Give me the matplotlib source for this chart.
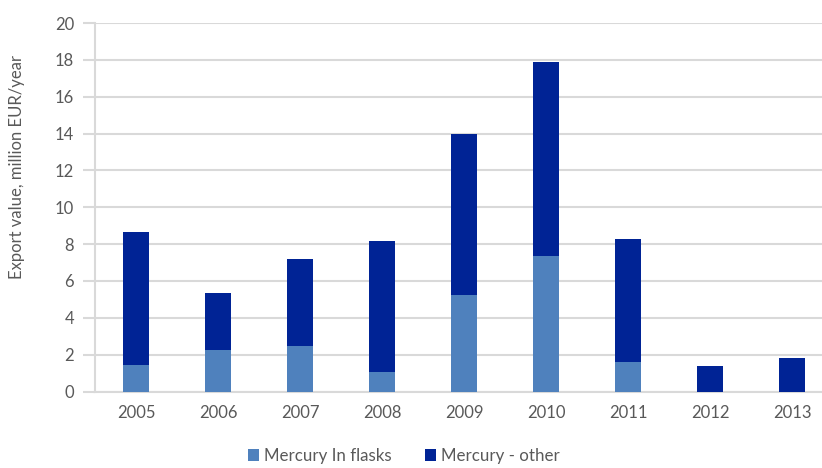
import matplotlib.pyplot as plt
import numpy as np

# --- data (million EUR/year) ---
years = ["2005", "2006", "2007", "2008", "2009", "2010", "2011", "2012", "2013"]
flasks = [1.45, 2.25, 2.47, 1.06, 5.24, 7.34, 1.60, 0.0, 0.0]
other_total = [8.64, 5.33, 7.18, 8.15, 14.0, 17.89, 8.28, 1.37, 1.84]
other = [t - f for t, f in zip(other_total, flasks)]

LIGHT = "#4F81BD"
DARK = "#002395"
GRID = "#D9D9D9"
TEXT = "#595959"

plt.rcParams["font.family"] = ["Lato", "DejaVu Sans"]

fig = plt.figure(figsize=(8.22, 4.68), dpi=100)
ax = fig.add_axes([95 / 822, 1 - 391.5 / 468, 738 / 822, (391.5 - 23) / 468])

x = np.arange(len(years))
ax.bar(x, flasks, width=0.31, color=LIGHT, label="Mercury In flasks", zorder=3)
ax.bar(x, other, width=0.31, bottom=flasks, color=DARK, label="Mercury - other", zorder=3)

ax.set_xlim(-0.5, len(years) - 0.5)
ax.set_ylim(0, 20)
ax.set_yticks(range(0, 21, 2))
ax.set_xticks(x)
ax.set_xticklabels(years)

ax.grid(axis="y", color=GRID, linewidth=1.5, zorder=0)
for side in ["top", "right"]:
    ax.spines[side].set_visible(False)
for side in ["left", "bottom"]:
    ax.spines[side].set_color(GRID)
    ax.spines[side].set_linewidth(1.5)

ax.tick_params(axis="y", colors=GRID, length=9, width=1.5, labelcolor=TEXT,
               labelsize=12, pad=6)
ax.tick_params(axis="x", length=0, labelcolor=TEXT, labelsize=12, pad=10)

fig.text(17 / 822, 1 - 167 / 468, "Export value, million EUR/year", rotation=90,
         ha="center", va="center", color=TEXT, fontsize=12)

fig.legend(loc="center", bbox_to_anchor=(404 / 822, 1 - 456 / 468), ncol=2,
           frameon=False, fontsize=12.2, labelcolor=TEXT, handlelength=0.65,
           handleheight=0.65, handletextpad=0.3, columnspacing=2.0,
           borderpad=0.1)

fig.savefig("out.png", dpi=100)
